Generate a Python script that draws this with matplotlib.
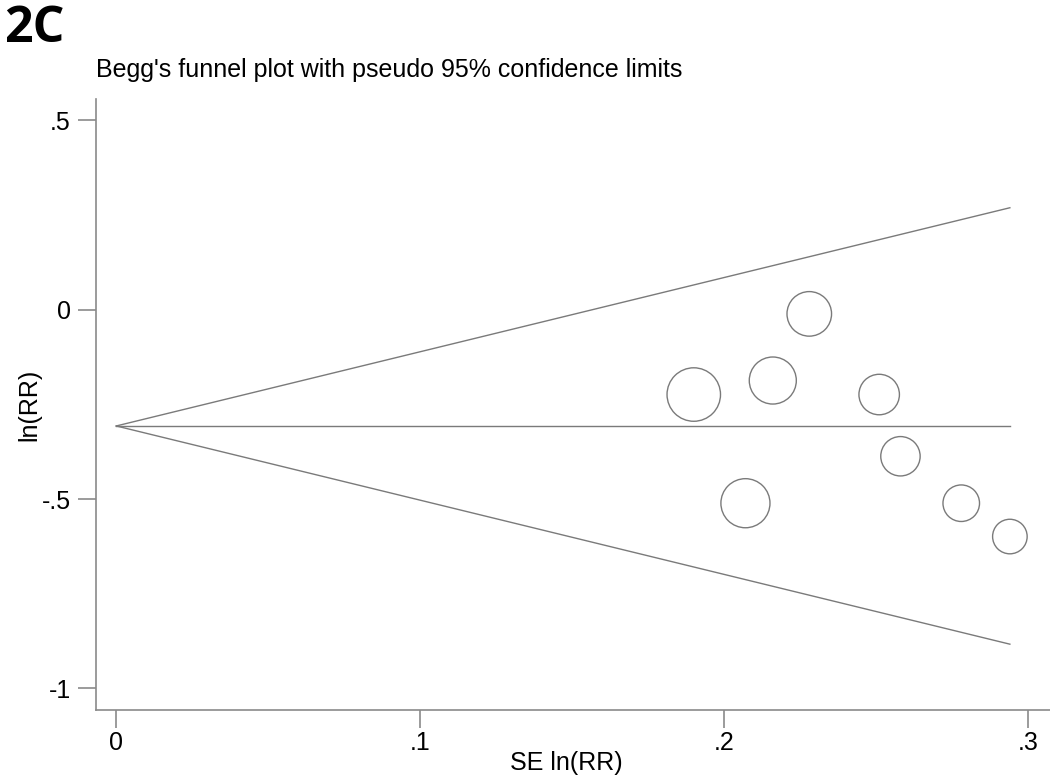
import numpy as np
import matplotlib
matplotlib.use("Agg")
import matplotlib.pyplot as plt

# Study data
se_lnrr = [0.190, 0.216, 0.228, 0.251, 0.258, 0.207, 0.278, 0.294]
ln_rr = [-0.224, -0.187, -0.011, -0.224, -0.387, -0.511, -0.511, -0.599]
pooled = -0.307
se_max = 0.294

x_ticks = [0, 0.1, 0.2, 0.3]
x_ticklabels = ["0", ".1", ".2", ".3"]
y_ticks = [-1, -0.5, 0, 0.5]
y_ticklabels = ["-1", "-.5", "0", ".5"]

plt.rcParams['font.family'] = ['Liberation Sans', 'DejaVu Sans']

dpi = 100
fig = plt.figure(figsize=(10.5, 7.75), dpi=dpi)
ax = fig.add_axes([0.0911, 0.0839, 0.9089, 0.7884])

gray = "#7a7a7a"
se_arr = np.array(se_lnrr)
# marker radius proportional to 1/SE (weights 1/SE^2)
r_px = 5.08 / se_arr
sizes = (2 * r_px * 72 / dpi) ** 2
ax.scatter(se_lnrr, ln_rr, s=sizes, facecolors="none", edgecolors=gray,
           linewidths=1.0, zorder=3)

se_line = np.array([0, se_max])
ax.plot(se_line, [pooled, pooled], color=gray, lw=1.0)
ax.plot(se_line, pooled + 1.96 * se_line, color=gray, lw=1.0)
ax.plot(se_line, pooled - 1.96 * se_line, color=gray, lw=1.0)

ax.set_xlim(-0.00678, 0.3072)
ax.set_ylim(-1.057, 0.5565)
ax.set_xticks(x_ticks)
ax.set_xticklabels(x_ticklabels)
ax.set_yticks(y_ticks)
ax.set_yticklabels(y_ticklabels)

for s in ["top", "right"]:
    ax.spines[s].set_visible(False)
for s in ["left", "bottom"]:
    ax.spines[s].set_color("#8a8a8a")
    ax.spines[s].set_linewidth(1.2)

ax.tick_params(axis="both", colors="#8a8a8a", labelcolor="black",
               labelsize=18, length=13, width=1.2, direction="out")
ax.tick_params(axis="x", pad=2)
ax.tick_params(axis="y", pad=5)

ax.set_xlabel("SE ln(RR)", fontsize=18)
ax.xaxis.set_label_coords(0.493, -0.067)
ax.set_ylabel("ln(RR)", fontsize=18, labelpad=0)

fig.text(96 / 1050, 1 - 77 / 775, "Begg's funnel plot with pseudo 95% confidence limits",
         fontsize=18, ha="left", va="baseline")
fig.text(4 / 1050, 1 - 42 / 775, "2C", fontsize=36, fontweight="bold",
         family=["Open Sans", "DejaVu Sans"], ha="left", va="baseline")

fig.savefig("out.png", dpi=dpi)
